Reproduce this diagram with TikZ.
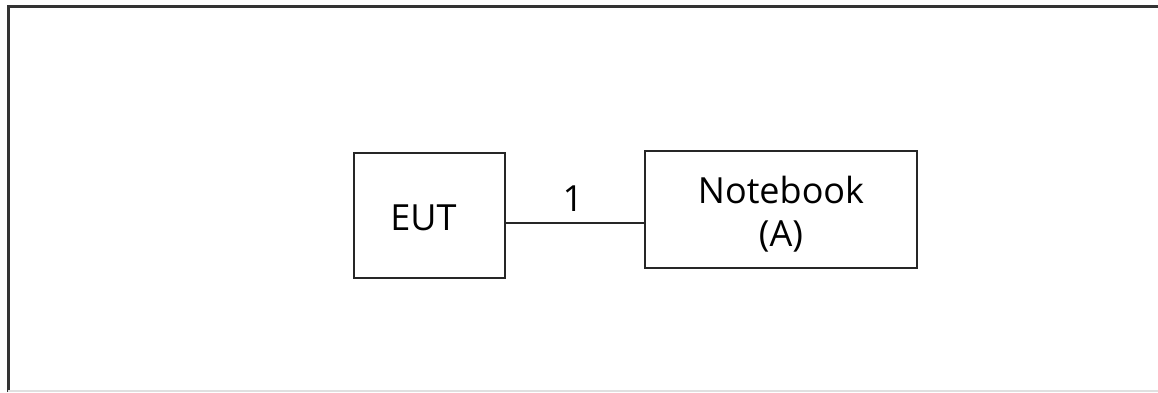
\documentclass[tikz,border=0pt]{standalone}
\usepackage{fontspec}
\setmainfont{Open Sans}
\begin{document}
\begin{tikzpicture}[x=1pt,y=-1pt,
  boxstyle/.style={draw=black!85,line width=1.5pt,inner sep=0pt},
  lbl/.style={inner sep=0pt,align=center,font=\fontsize{36}{43}\selectfont}]
\useasboundingbox (0,0) rectangle (1158,392);
\draw[line width=3pt,black!80] (8,392) coordinate (bl) -- (8,6) coordinate (tl) -- (1158,6) coordinate (tr);
\draw[line width=1.5pt,black!12] (8,391) -- (1158,391);
\node[boxstyle,minimum width=151pt,minimum height=125pt] (EUT) at (429.5,215.5) {};
\node[lbl] (EUTtext) at ([xshift=-6pt,yshift=-2pt]EUT.center) {EUT};
\node[boxstyle,minimum width=272pt,minimum height=117pt] (NB) at (781,209.5) {};
\node[lbl] (NBtext) at ([yshift=-5pt]NB.center) {Notebook\\(A)};
\draw[line width=1.5pt,black!85] (EUT.east |- 0,223) -- (NB.west |- 0,223);
\node[lbl,anchor=base] (one) at (573,211) {1};
\end{tikzpicture}
\end{document}
